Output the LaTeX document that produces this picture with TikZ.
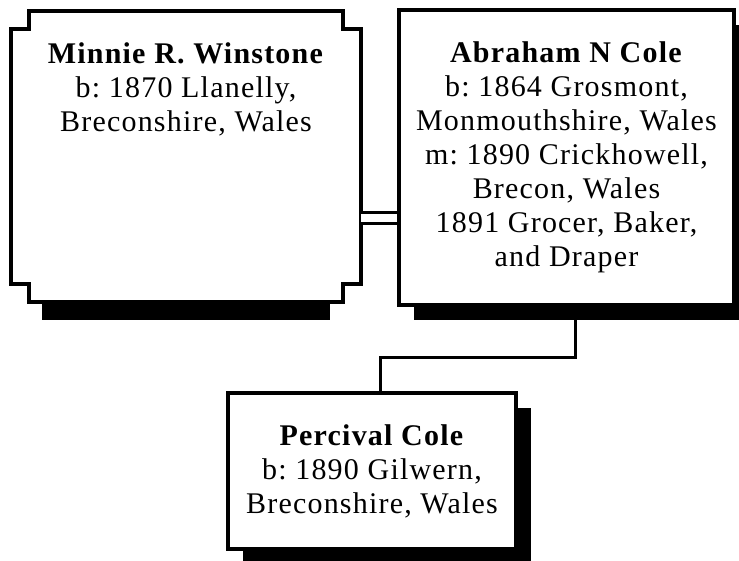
\documentclass[tikz,border=0pt]{standalone}
\usepackage{fontspec}
\setmainfont[LetterSpace=4]{Liberation Serif}
\frenchspacing
\usetikzlibrary{shadows}

\begin{document}
\begin{tikzpicture}[x=1pt,y=-1pt,
  every node/.style={align=center, font=\fontsize{30}{34}\selectfont, inner sep=0pt},
  person/.style={draw, line width=4pt, fill=white},
  frame/.style={line width=4pt, fill=white},
  shade/.style={drop shadow={opacity=1, fill=black, shadow xshift=15pt, shadow yshift=-15pt}},
  link/.style={line width=3pt},
  wed/.style={line width=3pt, double, double distance=8pt}]

\useasboundingbox (0,0) rectangle (739,561);

% Place the people
\node[minimum width=350pt, minimum height=291pt] (minnie) at (186,156.5) {};
\node[person, shade, minimum width=335pt, minimum height=295pt] (abraham) at (566.5,157.5)
  {\textbf{Abraham N Cole}\\ b: 1864 Grosmont,\\ Monmouthshire, Wales\\ m: 1890 Crickhowell,\\ Brecon, Wales\\ 1891 Grocer, Baker,\\ and Draper};
\node[person, shade, minimum width=288pt, minimum height=156pt] (percival) at (372,471)
  {\textbf{Percival Cole}\\ b: 1890 Gilwern,\\ Breconshire, Wales};

% Minnie gets a notched frame with a shadow only underneath
\fill ([xshift=31pt]minnie.south west) rectangle ([xshift=-31pt,yshift=-18pt]minnie.south east);
\draw[frame] ([yshift=-18pt]minnie.north west) -- ([xshift=18pt,yshift=-18pt]minnie.north west)
  -- ([xshift=18pt]minnie.north west) -- ([xshift=-18pt]minnie.north east)
  -- ([xshift=-18pt,yshift=-18pt]minnie.north east) -- ([yshift=-18pt]minnie.north east)
  -- ([yshift=18pt]minnie.south east) -- ([xshift=-18pt,yshift=18pt]minnie.south east)
  -- ([xshift=-18pt]minnie.south east) -- ([xshift=18pt]minnie.south west)
  -- ([xshift=18pt,yshift=18pt]minnie.south west) -- ([yshift=18pt]minnie.south west) -- cycle;
\node[anchor=north] (minnieText) at ([yshift=-32pt]minnie.north)
  {\textbf{Minnie R. Winstone}\\ b: 1870 Llanelly,\\ Breconshire, Wales};

% Connect the couple and their child
\coordinate (marriage) at (380,218.5);
\coordinate (kink) at (575,357);
\coordinate (elbow) at (380,357);
\draw[wed] (minnie.east |- marriage) -- (abraham.west |- marriage);
\draw[link] (abraham.south -| kink) -- (kink) -- (elbow) -- (percival.north -| elbow);

\end{tikzpicture}
\end{document}
